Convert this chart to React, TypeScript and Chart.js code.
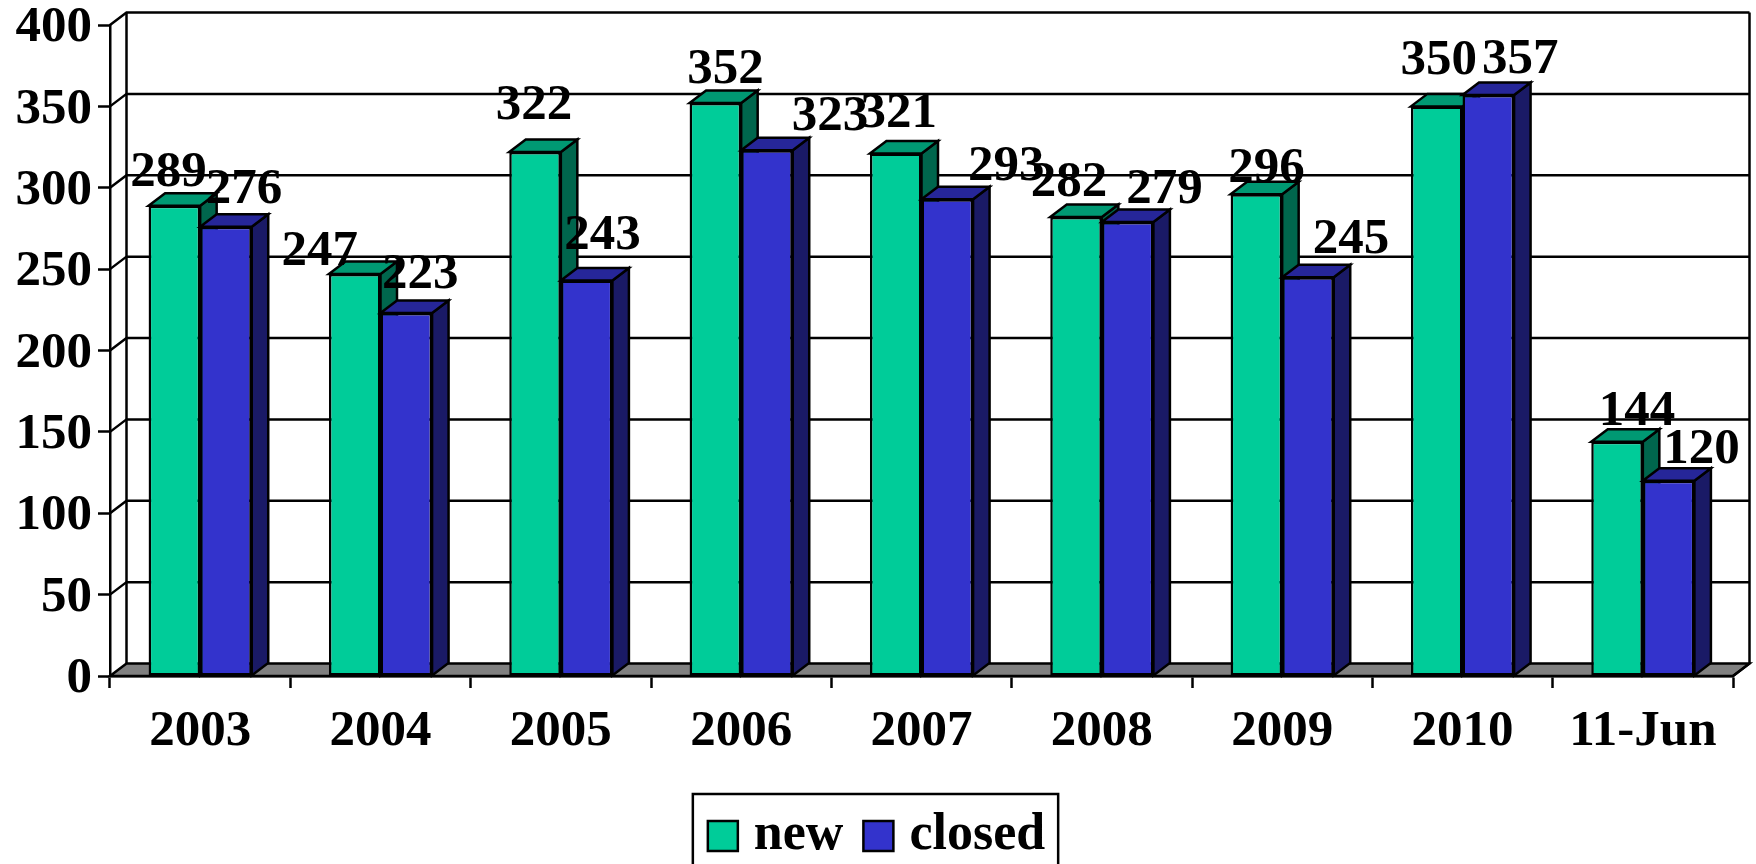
import React, { useEffect, useRef } from "react";
import { Chart, registerables } from "chart.js";

Chart.register(...registerables);

const categories = ["2003", "2004", "2005", "2006", "2007", "2008", "2009", "2010", "11-Jun"];
const newValues = [289, 247, 322, 352, 321, 282, 296, 350, 144];
const closedValues = [276, 223, 243, 323, 293, 279, 245, 357, 120];
const yMax = 400;
const yStep = 50;

// Hand-placed value-label nudges, relative to the top centre of each bar
const newLabelDx = [-6, -35, -1, 10, 3, -7, 10, 2, 20];
const newLabelDy = [-33, -22, -46, -33, -40, -34, -25, -46, -30];
const closedLabelDx = [18, 14, 16, 63, 59, 37, 43, 32, 33];
const closedLabelDy = [-37, -38, -45, -33, -32, -32, -37, -35, -31];

const FONT_FAMILY = "'Liberation Serif', 'Times New Roman', serif";
const FONT_SIZE = 51;
const DEPTH_X = 16.5;
const DEPTH_Y = 12.5;
const LINE = 2.5;

const shades = [
  { front: "#00CC99", top: "#009973", side: "#00664D", dx: newLabelDx, dy: newLabelDy },
  { front: "#3333CC", top: "#262699", side: "#1A1A66", dx: closedLabelDx, dy: closedLabelDy },
];

function poly(ctx: CanvasRenderingContext2D, pts: number[][], fill: string | null) {
  ctx.beginPath();
  pts.forEach(([x, y], i) => (i ? ctx.lineTo(x, y) : ctx.moveTo(x, y)));
  ctx.closePath();
  if (fill) {
    ctx.fillStyle = fill;
    ctx.fill();
  }
  ctx.stroke();
}

function drawFaces(chart: any, index: number) {
  const { ctx } = chart;
  const s = shades[index];
  ctx.save();
  ctx.strokeStyle = "#000";
  ctx.lineWidth = LINE;
  chart.getDatasetMeta(index).data.forEach((bar: any) => {
    const l = bar.x - bar.width / 2;
    const r = bar.x + bar.width / 2;
    const t = bar.y;
    const b = bar.base;
    poly(ctx, [[r, t], [r + DEPTH_X, t - DEPTH_Y], [r + DEPTH_X, b - DEPTH_Y], [r, b]], s.side);
    poly(ctx, [[l, t], [l + DEPTH_X, t - DEPTH_Y], [r + DEPTH_X, t - DEPTH_Y], [r, t]], s.top);
  });
  ctx.restore();
}

const frame3d = {
  id: "frame3d",
  afterLayout(chart: any) {
    const lg = chart.legend;
    const shift = 864 - lg.bottom + 8;
    lg.top += shift;
    lg.bottom += shift;
    lg.left += 15;
    lg.right += 15;
  },
  beforeDatasetsDraw(chart: any) {
    const { ctx, chartArea: a, scales } = chart;
    ctx.save();
    ctx.strokeStyle = "#000";
    ctx.lineWidth = LINE;
    const y0 = scales.y.getPixelForValue(0);
    poly(
      ctx,
      [
        [a.left, y0],
        [a.right, y0],
        [a.right + DEPTH_X, y0 - DEPTH_Y],
        [a.left + DEPTH_X, y0 - DEPTH_Y],
      ],
      "#808080"
    );
    for (let v = yStep; v <= yMax; v += yStep) {
      const y = scales.y.getPixelForValue(v);
      ctx.beginPath();
      ctx.moveTo(a.left, y);
      ctx.lineTo(a.left + DEPTH_X, y - DEPTH_Y);
      ctx.lineTo(a.right + DEPTH_X, y - DEPTH_Y);
      ctx.stroke();
    }
    const yt = scales.y.getPixelForValue(yMax) - DEPTH_Y;
    ctx.beginPath();
    ctx.moveTo(a.left + DEPTH_X, yt);
    ctx.lineTo(a.left + DEPTH_X, y0 - DEPTH_Y);
    ctx.moveTo(a.right + DEPTH_X, yt);
    ctx.lineTo(a.right + DEPTH_X, y0 - DEPTH_Y);
    ctx.lineTo(a.right, y0);
    ctx.stroke();
    ctx.restore();
  },
  beforeDatasetDraw(chart: any, args: any) {
    // Chart.js paints the last dataset first; the right-hand series must overlap the left one,
    // so "closed" is held back and painted after "new".
    if (args.index === 1) return false;
    drawFaces(chart, args.index);
    return true;
  },
  afterDatasetsDraw(chart: any) {
    const { ctx } = chart;
    drawFaces(chart, 1);
    chart.getDatasetMeta(1).controller.draw();
    ctx.save();
    ctx.fillStyle = "#000";
    ctx.font = `bold ${FONT_SIZE}px ${FONT_FAMILY}`;
    ctx.textAlign = "center";
    ctx.textBaseline = "middle";
    chart.data.datasets.forEach((ds: any, di: number) => {
      chart.getDatasetMeta(di).data.forEach((bar: any, i: number) => {
        ctx.fillText(String(ds.data[i]), bar.x + shades[di].dx[i], bar.y + shades[di].dy[i]);
      });
    });
    ctx.restore();
  },
  afterDraw(chart: any) {
    const { ctx, legend } = chart;
    const boxes = legend.legendHitBoxes;
    if (!boxes || !boxes.length) return;
    const first = boxes[0];
    const last = boxes[boxes.length - 1];
    ctx.save();
    ctx.strokeStyle = "#000";
    ctx.lineWidth = LINE;
    ctx.strokeRect(first.left - 25, 794, last.left + last.width + 13 - first.left + 25, 90);
    ctx.restore();
  },
};

export default function App() {
  const ref = useRef<HTMLCanvasElement>(null);
  useEffect(() => {
    document.body.style.margin = "0";
    const font = { family: FONT_FAMILY, size: FONT_SIZE, weight: "bold" as const };
    const chart = new Chart(ref.current!, {
      type: "bar",
      data: {
        labels: categories,
        datasets: [
          { label: "new", data: newValues, backgroundColor: shades[0].front, borderColor: "#000", borderWidth: LINE },
          { label: "closed", data: closedValues, backgroundColor: shades[1].front, borderColor: "#000", borderWidth: LINE },
        ],
      },
      plugins: [frame3d],
      options: {
        animation: false,
        responsive: false,
        layout: { padding: { top: 25, left: 0, right: 23, bottom: 0 } },
        datasets: { bar: { categoryPercentage: 0.572, barPercentage: 1, borderSkipped: false } },
        scales: {
          x: {
            grid: { drawOnChartArea: false, tickLength: 12, tickColor: "#000", tickWidth: LINE, offset: true },
            border: { color: "#000", width: LINE },
            ticks: { font, color: "#000", padding: 13, maxRotation: 0, autoSkip: false },
            afterFit(s: any) {
              s.height = 96;
            },
          },
          y: {
            min: 0,
            max: yMax,
            grid: { drawOnChartArea: false, tickLength: 12, tickColor: "#000", tickWidth: LINE },
            border: { color: "#000", width: LINE },
            ticks: { font, color: "#000", padding: 6, stepSize: yStep, labelOffset: 3 },
            afterFit(s: any) {
              s.width = 110;
              s.paddingTop = 0;
              s.paddingBottom = 0;
            },
          },
        },
        plugins: {
          legend: {
            position: "bottom",
            labels: {
              font: { ...font, size: 52 },
              color: "#000",
              usePointStyle: true,
              pointStyle: "rect",
              boxWidth: 10,
              boxHeight: 30,
              padding: 30,
            },
          },
          tooltip: { enabled: false },
        },
      },
    });
    return () => chart.destroy();
  }, []);
  return <canvas ref={ref} width={1756} height={864} style={{ display: "block" }} />;
}
